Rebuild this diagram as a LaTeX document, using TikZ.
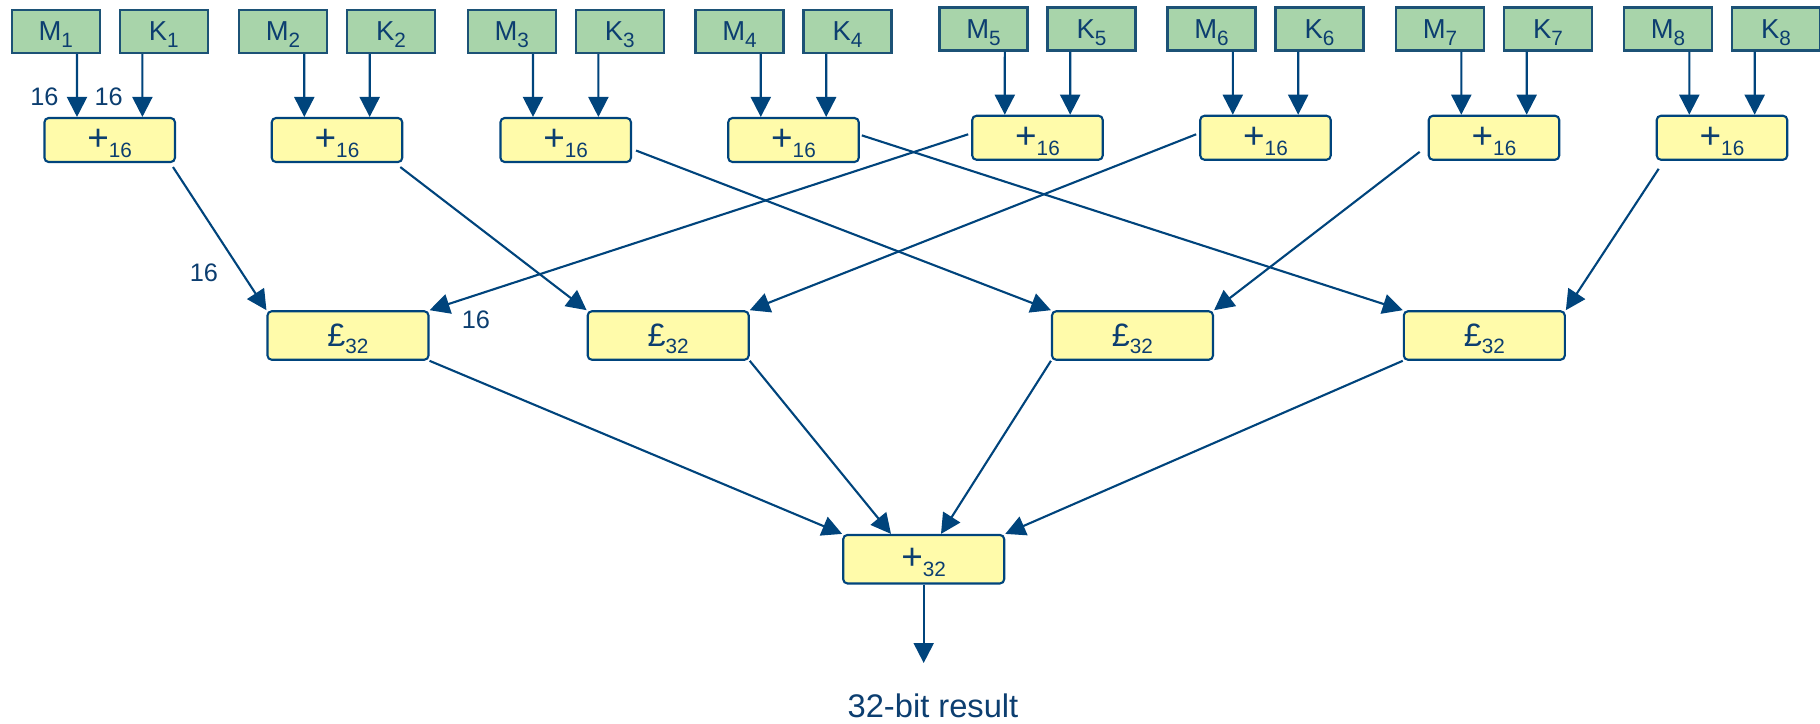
\documentclass[tikz,border=0pt]{standalone}
\usepackage{fontspec}
\setmainfont{Liberation Sans}
\usetikzlibrary{arrows.meta, positioning, calc}

\definecolor{navy}{RGB}{0,68,124}
\definecolor{inkblue}{RGB}{12,62,112}
\definecolor{boxedge}{RGB}{28,82,118}
\definecolor{keygreen}{RGB}{168,212,170}
\definecolor{addyellow}{RGB}{255,251,170}

\newcommand{\lowidx}[1]{\raisebox{-1.9pt}{\fontsize{5.9}{6}\selectfont #1}}

\begin{document}
\begin{tikzpicture}[
    inbox/.style={draw=boxedge, line width=0.6pt, fill=keygreen, minimum width=0.88cm, minimum height=0.43cm, inner sep=0pt, text depth=0pt, text=inkblue, font=\fontsize{7.8}{8}\selectfont},
    addbox/.style={draw=navy, line width=0.6pt, fill=addyellow, rounded corners=1.2pt, minimum width=1.305cm, minimum height=0.44cm, inner sep=0pt, text depth=0pt, text=inkblue, font=\fontsize{10.5}{11}\selectfont},
    sumbox/.style={addbox, minimum width=1.61cm, minimum height=0.485cm},
    link/.style={-{Triangle[length=2mm,width=2mm]}, draw=navy, line width=0.6pt},
    bitlabel/.style={text=inkblue, font=\fontsize{7.2}{8}\selectfont}
]
    \useasboundingbox (0,0) rectangle (18.2,-7.24);

    % inputs and 16-bit adders, left half
    \node[inbox] (m1) at (0.557,-0.315) {M\lowidx{1}};
    \node[inbox] (k1) at (1.637,-0.315) {K\lowidx{1}};
    \node[addbox] (a1) at (1.097,-1.40) {+\lowidx{16}};

    \node[inbox] (m2) at (2.830,-0.315) {M\lowidx{2}};
    \node[inbox] (k2) at (3.910,-0.315) {K\lowidx{2}};
    \node[addbox] (a2) at (3.370,-1.40) {+\lowidx{16}};

    \node[inbox] (m3) at (5.117,-0.315) {M\lowidx{3}};
    \node[inbox] (k3) at (6.197,-0.315) {K\lowidx{3}};
    \node[addbox] (a3) at (5.657,-1.40) {+\lowidx{16}};

    \node[inbox] (m4) at (7.395,-0.315) {M\lowidx{4}};
    \node[inbox] (k4) at (8.475,-0.315) {K\lowidx{4}};
    \node[addbox] (a4) at (7.935,-1.40) {+\lowidx{16}};

    % inputs and 16-bit adders, right half
    \node[inbox] (m5) at (9.835,-0.29) {M\lowidx{5}};
    \node[inbox] (k5) at (10.915,-0.29) {K\lowidx{5}};
    \node[addbox] (a5) at (10.375,-1.3775) {+\lowidx{16}};

    \node[inbox] (m6) at (12.115,-0.29) {M\lowidx{6}};
    \node[inbox] (k6) at (13.195,-0.29) {K\lowidx{6}};
    \node[addbox] (a6) at (12.655,-1.3775) {+\lowidx{16}};

    \node[inbox] (m7) at (14.400,-0.29) {M\lowidx{7}};
    \node[inbox] (k7) at (15.480,-0.29) {K\lowidx{7}};
    \node[addbox] (a7) at (14.940,-1.3775) {+\lowidx{16}};

    \node[inbox] (m8) at (16.680,-0.29) {M\lowidx{8}};
    \node[inbox] (k8) at (17.760,-0.29) {K\lowidx{8}};
    \node[addbox] (a8) at (17.220,-1.3775) {+\lowidx{16}};

    % 32-bit stage
    \node[sumbox, font=\fontsize{9.2}{10}\selectfont] (l1) at (3.480,-3.355) {£\lowidx{32}};
    \node[sumbox, font=\fontsize{9.2}{10}\selectfont] (l2) at (6.682,-3.355) {£\lowidx{32}};
    \node[sumbox, font=\fontsize{9.2}{10}\selectfont] (l3) at (11.325,-3.355) {£\lowidx{32}};
    \node[sumbox, font=\fontsize{9.2}{10}\selectfont] (l4) at (14.843,-3.355) {£\lowidx{32}};

    \node[sumbox] (fin) at (9.237,-5.592) {+\lowidx{32}};
    \coordinate (out) at (9.237,-6.63);
    \node[text=inkblue, font=\fontsize{9.3}{10}\selectfont] (res) at (9.33,-7.06) {32-bit result};

    % into the 16-bit adders
    \draw[link] ([xshift=2.13mm]m1.south) -- ([xshift=-3.27mm]a1.north);
    \draw[link] ([xshift=-2.13mm]k1.south) -- ([xshift=3.27mm]a1.north);
    \draw[link] ([xshift=2.13mm]m2.south) -- ([xshift=-3.27mm]a2.north);
    \draw[link] ([xshift=-2.13mm]k2.south) -- ([xshift=3.27mm]a2.north);
    \draw[link] ([xshift=2.13mm]m3.south) -- ([xshift=-3.27mm]a3.north);
    \draw[link] ([xshift=-2.13mm]k3.south) -- ([xshift=3.27mm]a3.north);
    \draw[link] ([xshift=2.13mm]m4.south) -- ([xshift=-3.27mm]a4.north);
    \draw[link] ([xshift=-2.13mm]k4.south) -- ([xshift=3.27mm]a4.north);
    \draw[link] ([xshift=2.13mm]m5.south) -- ([xshift=-3.27mm]a5.north);
    \draw[link] ([xshift=-2.13mm]k5.south) -- ([xshift=3.27mm]a5.north);
    \draw[link] ([xshift=2.13mm]m6.south) -- ([xshift=-3.27mm]a6.north);
    \draw[link] ([xshift=-2.13mm]k6.south) -- ([xshift=3.27mm]a6.north);
    \draw[link] ([xshift=2.13mm]m7.south) -- ([xshift=-3.27mm]a7.north);
    \draw[link] ([xshift=-2.13mm]k7.south) -- ([xshift=3.27mm]a7.north);
    \draw[link] ([xshift=2.13mm]m8.south) -- ([xshift=-3.27mm]a8.north);
    \draw[link] ([xshift=-2.13mm]k8.south) -- ([xshift=3.27mm]a8.north);

    % 16-bit sums crossing over
    \draw[link] ([shift={(-0.03,-0.04)}]a1.south east) -- (l1.north west);
    \draw[link] ([xshift=-0.03cm]a5.177) -- (l1.north east);
    \draw[link] ([shift={(-0.03,-0.04)}]a2.south east) -- (l2.north west);
    \draw[link] ([xshift=-0.03cm]a6.177) -- (l2.north east);
    \draw[link] ([xshift=0.04cm]a3.-9) -- (l3.north west);
    \draw[link] ([xshift=-0.08cm]a7.-168) -- (l3.north east);
    \draw[link] ([xshift=0.02cm]a4.4) -- (l4.north west);
    \draw[link] ([shift={(0.03,-0.08)}]a8.south west) -- (l4.north east);

    % into the 32-bit adder
    \draw[link] (l1.south east) -- (fin.north west);
    \draw[link] (l2.south east) -- ([xshift=-3.27mm]fin.north);
    \draw[link] (l3.south west) -- ([xshift=1.73mm]fin.north);
    \draw[link] (l4.south west) -- (fin.north east);
    \draw[link] (fin.south) -- (out);

    % widths
    \node[bitlabel] (w1) at (0.445,-0.967) {16};
    \node[bitlabel] (w2) at (1.087,-0.967) {16};
    \node[bitlabel] (w3) at (2.04,-2.725) {16};
    \node[bitlabel] (w4) at (4.76,-3.20) {16};
\end{tikzpicture}
\end{document}
